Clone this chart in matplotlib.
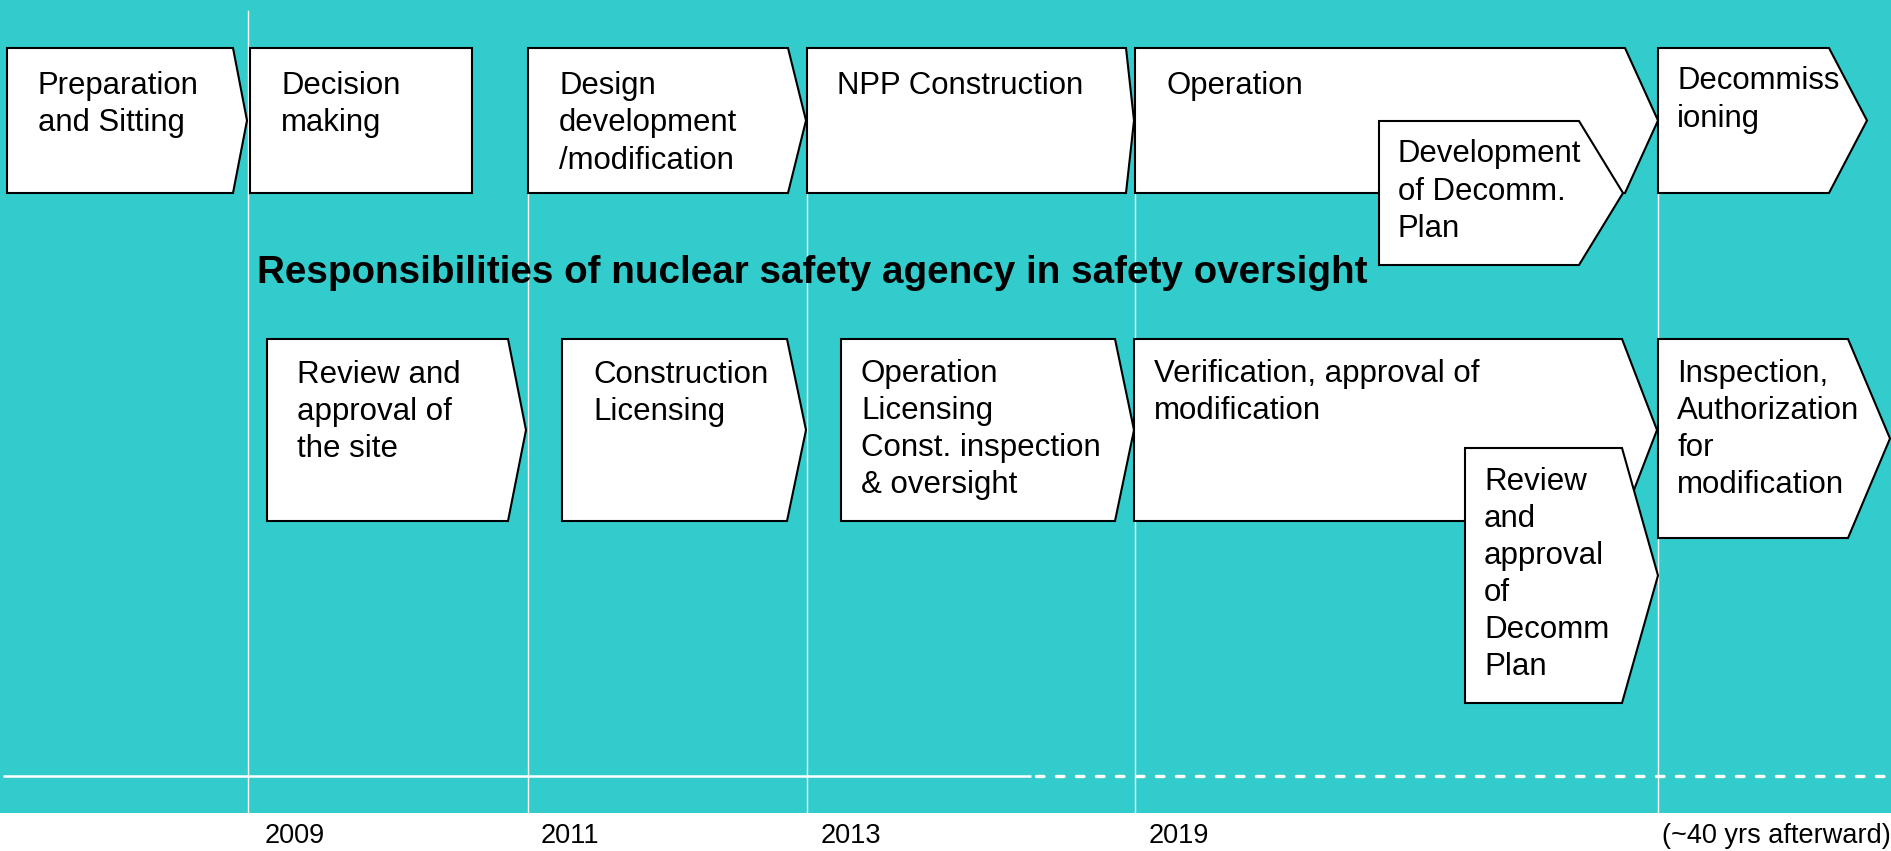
import matplotlib
matplotlib.use('Agg')
import matplotlib.pyplot as plt
from matplotlib.patches import Polygon, Rectangle
from matplotlib import font_manager

W, H = 1891, 851
TEAL = '#33CCCC'

# ---- content ----
phase_labels = [
    'Preparation\nand Sitting',
    'Decision\nmaking',
    'Design\ndevelopment\n/modification',
    'NPP Construction',
    'Operation',
    'Decommiss\nioning',
    'Development\nof Decomm.\nPlan',
]
oversight_labels = [
    'Review and\napproval of\nthe site',
    'Construction\nLicensing',
    'Operation\nLicensing\nConst. inspection\n& oversight',
    'Verification, approval of\nmodification',
    'Review\nand\napproval\nof\nDecomm\nPlan',
    'Inspection,\nAuthorization\nfor\nmodification',
]
milestone_years = ['2009', '2011', '2013', '2019', '(~40 yrs afterward)']
title_text = 'Responsibilities of nuclear safety agency in safety oversight'

# ---- layout in pixels: (left, top, bottom, right, tip_x) ----
phase_boxes = [
    (7, 48, 193, 233, 247),
    (250, 48, 193, 472, 472),
    (528, 48, 193, 788, 806),
    (807, 48, 193, 1126, 1134),
    (1135, 48, 193, 1625, 1658),
    (1658, 48, 193, 1829, 1867),
    (1379, 121, 265, 1579, 1623),
]
phase_text = [(38, 94), (281, 94), (559, 94), (837, 94), (1166, 94), (1677, 89), (1398, 162)]

oversight_boxes = [
    (267, 339, 521, 508, 526),
    (562, 339, 521, 787, 806),
    (841, 339, 521, 1115, 1134),
    (1134, 339, 521, 1622, 1657),
    (1465, 448, 703, 1622, 1658),
    (1658, 339, 538, 1848, 1890),
]
oversight_text = [(297, 383), (593, 383), (861, 382), (1154, 382), (1484, 490), (1677, 382)]

marker_x = [248, 528, 807, 1135, 1658]
year_x = [265, 541, 821, 1149, 1662]

plt.rcParams['lines.scale_dashes'] = False
have_narrow = any(f.name == 'Liberation Sans Narrow' for f in font_manager.fontManager.ttflist)

fig = plt.figure(figsize=(W / 100, H / 100), dpi=100)
ax = fig.add_axes([0, 0, 1, 1])
ax.set_xlim(0, W)
ax.set_ylim(H, 0)
ax.axis('off')

ax.add_patch(Rectangle((0, 0), W, 813, facecolor=TEAL, edgecolor='none', zorder=0))

# vertical milestone lines
for i, x in enumerate(marker_x):
    ax.plot([x, x], [11 if i == 0 else 48, 813], color='white', lw=1.0, zorder=1)

# time axis: solid, then dashed
ax.plot([3, 1031], [776, 776], color='white', lw=1.8, zorder=1, solid_capstyle='butt')
ax.plot([1036, W], [776, 776], color='white', lw=2.4, zorder=1,
        dashes=(5.4, 9.0), dash_capstyle='round')


def chevron(box):
    l, t, b, r, tip = box
    pts = [(l, t), (r, t), (tip, (t + b) / 2), (r, b), (l, b)]
    ax.add_patch(Polygon(pts, closed=True, facecolor='white', edgecolor='black',
                         lw=1.5, joinstyle='miter', zorder=2))


def put_lines(x, y0, text, step, size):
    for k, line in enumerate(text.split('\n')):
        ax.text(x, y0 + k * step, line, fontsize=size, family='Liberation Sans',
                ha='left', va='baseline', color='black', zorder=3)


for box, (tx, ty), lab in zip(phase_boxes, phase_text, phase_labels):
    chevron(box)
    put_lines(tx, ty, lab, 37.5, 22.4)

for box, (tx, ty), lab in zip(oversight_boxes, oversight_text, oversight_labels):
    chevron(box)
    put_lines(tx, ty, lab, 37, 22.5)

ax.text(257, 283, title_text, fontsize=27.8, fontweight='bold', family='Liberation Sans',
        ha='left', va='baseline', color='black', zorder=3)

if have_narrow:
    yfam, ysize = 'Liberation Sans Narrow', 23.5
else:
    yfam, ysize = 'Liberation Sans', 19.5
for x, lab in zip(year_x, milestone_years):
    ax.text(x, 843, lab, fontsize=ysize, family=yfam, ha='left', va='baseline', color='black')

fig.savefig('out.png', dpi=100)
